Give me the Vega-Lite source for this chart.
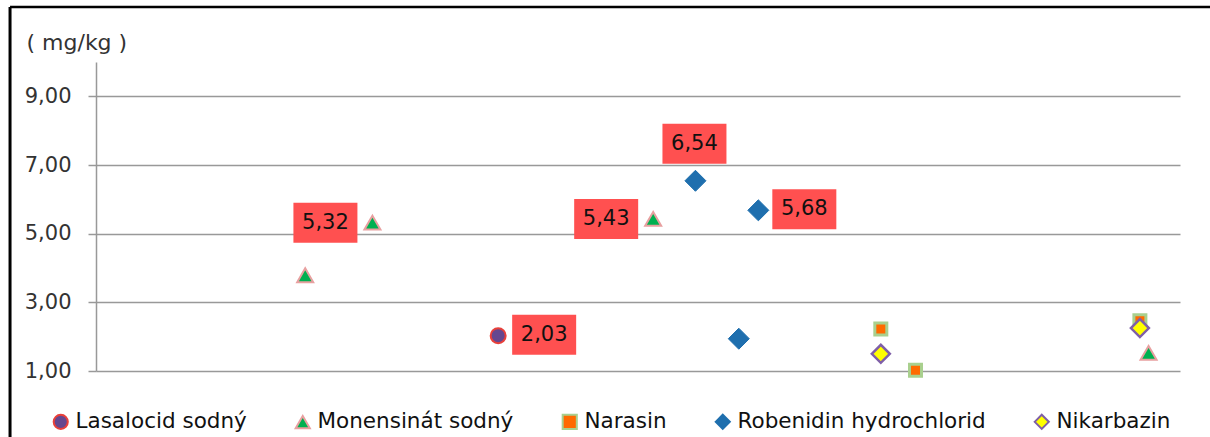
{
  "$schema": "https://vega.github.io/schema/vega-lite/v6.json",
  "width": 1084,
  "height": 309,
  "autosize": {"type": "none"},
  "padding": {"left": 96, "top": 62, "right": 30, "bottom": 66},
  "background": "white",
  "config": {
    "view": {"stroke": null},
    "font": "DejaVu Sans"
  },
  "data": {"values": [
      {"series": "Lasalocid sodný", "sample": 37.1, "value": 2.03},
      {"series": "Monensinát sodný", "sample": 19.3, "value": 3.79},
      {"series": "Monensinát sodný", "sample": 25.5, "value": 5.32},
      {"series": "Monensinát sodný", "sample": 51.4, "value": 5.43},
      {"series": "Monensinát sodný", "sample": 97.1, "value": 1.53},
      {"series": "Narasin", "sample": 72.4, "value": 2.22},
      {"series": "Narasin", "sample": 75.6, "value": 1.02},
      {"series": "Narasin", "sample": 96.3, "value": 2.46},
      {"series": "Robenidin hydrochlorid", "sample": 55.3, "value": 6.54},
      {"series": "Robenidin hydrochlorid", "sample": 59.3, "value": 1.94},
      {"series": "Robenidin hydrochlorid", "sample": 61.1, "value": 5.68},
      {"series": "Nikarbazin", "sample": 72.4, "value": 1.50},
      {"series": "Nikarbazin", "sample": 96.3, "value": 2.25}
  ]},
  "encoding": {
    "x": {"field": "sample", "type": "quantitative", "scale": {"domain": [0, 100], "nice": false, "zero": false}, "axis": null},
    "y": {
      "field": "value", "type": "quantitative",
      "scale": {"domain": [1, 10], "nice": false, "zero": false},
      "axis": {
        "values": [1, 3, 5, 7, 9],
        "labelExpr": "replace(format(datum.value, '.2f'), '.', ',')",
        "title": "( mg/kg )",
        "titleAngle": 0,
        "titleAlign": "left",
        "titleBaseline": "top",
        "titleX": -70,
        "titleY": -30,
        "titleFont": "DejaVu Sans",
        "titleFontSize": 22,
        "titleFontWeight": "normal",
        "titleColor": "#333333",
        "labelFont": "DejaVu Sans",
        "labelFontSize": 21,
        "labelColor": "#333333",
        "labelPadding": 17,
        "tickSize": 8,
        "tickColor": "#999999",
        "tickWidth": 1.5,
        "domainColor": "#999999",
        "domainWidth": 1.5,
        "gridColor": "#999999",
        "gridWidth": 1.5
      }
    }
  },
  "layer": [
    {
      "data": {"values": [{"fx": -7.93, "fx2": 104, "ftop": 11.6, "fbot": -1}]},
      "mark": {"type": "rule", "color": "black", "strokeWidth": 3, "clip": false},
      "encoding": {
        "x": {"field": "fx", "type": "quantitative"},
        "y": {"field": "ftop", "type": "quantitative"},
        "y2": {"field": "fbot"}
      }
    },
    {
      "data": {"values": [{"fx": -7.93, "fx2": 104, "ftop": 11.6, "fbot": -1}]},
      "mark": {"type": "rule", "color": "black", "strokeWidth": 2.5, "clip": false},
      "encoding": {
        "x": {"field": "fx", "type": "quantitative"},
        "x2": {"field": "fx2"},
        "y": {"field": "ftop", "type": "quantitative"}
      }
    },
    {
      "encoding": {
        "fill": {
          "field": "series", "type": "nominal",
          "scale": {
            "domain": ["Lasalocid sodný", "Monensinát sodný", "Narasin", "Robenidin hydrochlorid", "Nikarbazin"],
            "range": ["#65478F", "#00B050", "#FF6A00", "#1F6FAE", "#FFFF00"]
          },
          "legend": {
            "title": null,
            "orient": "none",
            "legendX": -46,
            "legendY": 349,
            "direction": "horizontal",
            "columns": 5,
            "columnPadding": 44,
            "labelFont": "DejaVu Sans",
            "labelFontSize": 21.5,
            "labelColor": "#111111",
            "labelOffset": 4,
            "labelLimit": 400,
            "symbolSize": 200,
            "symbolStrokeWidth": 2
          }
        },
        "stroke": {
          "field": "series", "type": "nominal",
          "scale": {
            "domain": ["Lasalocid sodný", "Monensinát sodný", "Narasin", "Robenidin hydrochlorid", "Nikarbazin"],
            "range": ["#E8403A", "#E8A0A0", "#A9D08E", "#1F6FAE", "#7F5FA8"]
          }
        },
        "shape": {
          "field": "series", "type": "nominal",
          "scale": {
            "domain": ["Lasalocid sodný", "Monensinát sodný", "Narasin", "Robenidin hydrochlorid", "Nikarbazin"],
            "range": ["circle", "triangle-up", "square", "diamond", "diamond"]
          }
        }
      },
      "layer": [
        {
          "transform": [{"filter": "datum.series == 'Lasalocid sodný'"}],
          "mark": {"type": "point", "filled": true, "opacity": 1, "size": 225, "strokeWidth": 2}
        },
        {
          "transform": [{"filter": "datum.series == 'Monensinát sodný'"}],
          "mark": {"type": "point", "filled": true, "opacity": 1, "size": 256, "strokeWidth": 2}
        },
        {
          "transform": [{"filter": "datum.series == 'Narasin'"}],
          "mark": {"type": "point", "filled": true, "opacity": 1, "size": 144, "strokeWidth": 3}
        },
        {
          "transform": [{"filter": "datum.series == 'Robenidin hydrochlorid'"}],
          "mark": {"type": "point", "filled": true, "opacity": 1, "size": 441, "strokeWidth": 1}
        },
        {
          "transform": [{"filter": "datum.series == 'Nikarbazin'"}],
          "mark": {"type": "point", "filled": true, "opacity": 1, "size": 324, "strokeWidth": 2.5}
        }
      ]
    },
    {
      "transform": [{"filter": "(datum.series == 'Monensinát sodný' && datum.value > 5)"}],
      "mark": {"type": "point", "shape": "M-1.6,-1L1.6,-1L1.6,1L-1.6,1Z", "size": 1600, "filled": true, "fill": "#FF5050", "strokeWidth": 0, "opacity": 1, "xOffset": -47}
    },
    {
      "transform": [{"filter": "(datum.series == 'Monensinát sodný' && datum.value > 5)"}, {"calculate": "replace(format(datum.value, '.2f'), '.', ',')", "as": "lab"}],
      "mark": {"type": "text", "font": "DejaVu Sans", "fontSize": 21, "color": "#111111", "xOffset": -47, "baseline": "middle", "align": "center"},
      "encoding": {"text": {"field": "lab", "type": "nominal"}}
    },
    {
      "transform": [{"filter": "datum.series == 'Lasalocid sodný' || (datum.series == 'Robenidin hydrochlorid' && datum.value > 5 && datum.value < 6)"}],
      "mark": {"type": "point", "shape": "M-1.6,-1L1.6,-1L1.6,1L-1.6,1Z", "size": 1600, "filled": true, "fill": "#FF5050", "strokeWidth": 0, "opacity": 1, "xOffset": 46, "yOffset": -1}
    },
    {
      "transform": [{"filter": "datum.series == 'Lasalocid sodný' || (datum.series == 'Robenidin hydrochlorid' && datum.value > 5 && datum.value < 6)"}, {"calculate": "replace(format(datum.value, '.2f'), '.', ',')", "as": "lab"}],
      "mark": {"type": "text", "font": "DejaVu Sans", "fontSize": 21, "color": "#111111", "xOffset": 46, "yOffset": -1, "baseline": "middle", "align": "center"},
      "encoding": {"text": {"field": "lab", "type": "nominal"}}
    },
    {
      "transform": [{"filter": "datum.series == 'Robenidin hydrochlorid' && datum.value > 6"}],
      "mark": {"type": "point", "shape": "M-1.6,-1L1.6,-1L1.6,1L-1.6,1Z", "size": 1600, "filled": true, "fill": "#FF5050", "strokeWidth": 0, "opacity": 1, "xOffset": -1, "yOffset": -37}
    },
    {
      "transform": [{"filter": "datum.series == 'Robenidin hydrochlorid' && datum.value > 6"}, {"calculate": "replace(format(datum.value, '.2f'), '.', ',')", "as": "lab"}],
      "mark": {"type": "text", "font": "DejaVu Sans", "fontSize": 21, "color": "#111111", "xOffset": -1, "yOffset": -37, "baseline": "middle", "align": "center"},
      "encoding": {"text": {"field": "lab", "type": "nominal"}}
    }
  ]
}
